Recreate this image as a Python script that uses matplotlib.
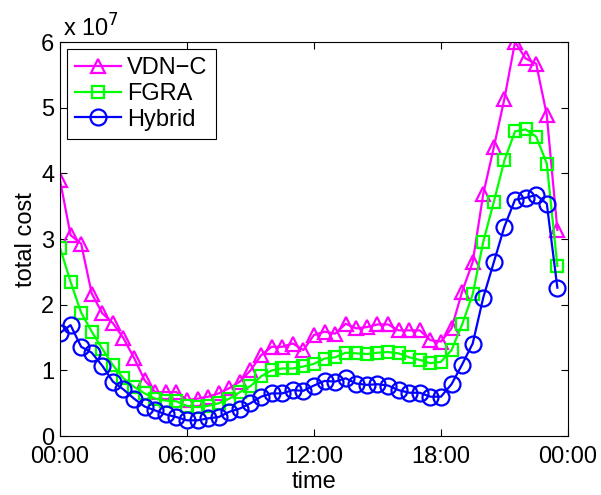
import matplotlib
matplotlib.use('Agg')
import matplotlib.pyplot as plt
import numpy as np

plt.rcParams['font.family'] = ['Liberation Sans', 'DejaVu Sans']

# half-hour steps over one day
hours = np.arange(48) * 0.5

# values in units of 1e7
vdn_c = [3.90, 3.06, 2.93, 2.17, 1.87, 1.72, 1.49, 1.19, 0.85, 0.67, 0.67, 0.67,
         0.55, 0.57, 0.60, 0.65, 0.73, 0.83, 1.00, 1.23, 1.36, 1.36, 1.41, 1.31,
         1.54, 1.59, 1.56, 1.71, 1.64, 1.66, 1.70, 1.70, 1.61, 1.61, 1.61, 1.46,
         1.44, 1.64, 2.20, 2.65, 3.69, 4.40, 5.14, 6.00, 5.75, 5.67, 4.89, 3.14]
fgra = [2.87, 2.35, 1.88, 1.59, 1.33, 1.08, 0.88, 0.75, 0.65, 0.57, 0.54, 0.53,
        0.46, 0.44, 0.46, 0.50, 0.57, 0.67, 0.76, 0.91, 1.00, 1.03, 1.03, 1.06,
        1.10, 1.18, 1.20, 1.27, 1.26, 1.25, 1.27, 1.28, 1.26, 1.20, 1.16, 1.11,
        1.13, 1.31, 1.70, 2.16, 2.96, 3.57, 4.20, 4.64, 4.67, 4.56, 4.15, 2.59]
hybrid = [1.57, 1.69, 1.36, 1.27, 1.07, 0.83, 0.71, 0.57, 0.45, 0.39, 0.33, 0.29,
          0.24, 0.24, 0.27, 0.29, 0.37, 0.42, 0.50, 0.60, 0.65, 0.65, 0.70, 0.69,
          0.77, 0.84, 0.83, 0.88, 0.80, 0.78, 0.79, 0.77, 0.70, 0.66, 0.66, 0.60,
          0.60, 0.79, 1.09, 1.41, 2.11, 2.65, 3.19, 3.60, 3.63, 3.67, 3.54, 2.26]

tick_hours = [0, 6, 12, 18, 24]
tick_labels = ['00:00', '06:00', '12:00', '18:00', '00:00']

fs = 17

fig = plt.figure(figsize=(6.01, 4.95), dpi=100)
ax = fig.add_axes([0.0998, 0.119, 0.8452, 0.796])

ax.plot(hours, vdn_c, '-^', color='#ff00ff', lw=1.6, ms=10, mew=1.6,
        mfc='none', label='VDN\u2212C')
ax.plot(hours, fgra, '-s', color='#00ff00', lw=1.6, ms=8.5, mew=1.6,
        mfc='none', label='FGRA')
ax.plot(hours, hybrid, '-o', color='#0000ff', lw=1.6, ms=11.5, mew=1.6,
        mfc='none', label='Hybrid')

ax.set_xlim(0, 24)
ax.set_ylim(0, 6)
ax.set_xticks(tick_hours)
ax.set_xticklabels(tick_labels)
ax.set_yticks(range(7))
ax.tick_params(direction='in', top=True, right=True, labelsize=fs, length=5)
ax.tick_params(axis='x', pad=7)
ax.tick_params(axis='y', pad=4)
ax.set_xlabel('time', fontsize=fs, labelpad=2)
ax.set_ylabel('total cost', fontsize=fs, labelpad=3)
ax.text(0.005, 1.0, 'x 10$^7$', transform=ax.transAxes, fontsize=fs,
        ha='left', va='bottom')

leg = ax.legend(loc='upper left', fontsize=fs, handlelength=1.95,
                fancybox=False, edgecolor='black', framealpha=1,
                borderaxespad=0.3, borderpad=0.35, labelspacing=0.15,
                handletextpad=0.25)
leg.get_frame().set_linewidth(0.8)

fig.savefig('out.png', dpi=100)
